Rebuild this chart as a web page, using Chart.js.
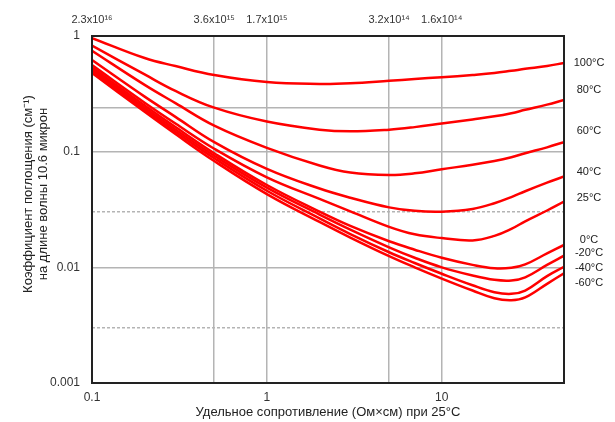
<!DOCTYPE html>
<html>
<head>
<meta charset="utf-8">
<style>
  body { margin: 0; background: #fff; }
  #wrap { width: 615px; height: 422px; }
</style>
</head>
<body>
<div id="wrap"><canvas id="grafico" width="615" height="422"></canvas></div>

<script src="https://cdn.jsdelivr.net/npm/chart.js@4"></script>
<script>
  // удельное сопротивление, Ом×см
  const resistivity = [0.1, 0.2, 0.3, 0.5, 1, 2, 3, 5, 7, 10, 15, 20, 25, 30, 40, 50];

  // коэффициент поглощения, см-1 (по кривым)
  const t100 = [0.96, 0.645, 0.55, 0.46, 0.40, 0.385, 0.39, 0.41, 0.425, 0.44, 0.46, 0.478, 0.50, 0.52, 0.55, 0.585];
  const t80  = [0.825, 0.465, 0.335, 0.24, 0.182, 0.155, 0.15, 0.155, 0.163, 0.175, 0.19, 0.202, 0.215, 0.23, 0.255, 0.28];
  const t60  = [0.746, 0.378, 0.263, 0.168, 0.108, 0.076, 0.066, 0.0628, 0.065, 0.0705, 0.077, 0.083, 0.0895, 0.097, 0.109, 0.121];
  const t40  = [0.62, 0.299, 0.20, 0.121, 0.071, 0.048, 0.04, 0.033, 0.0308, 0.0303, 0.032, 0.0358, 0.0405, 0.0455, 0.054, 0.061];
  const t25  = [0.56, 0.265, 0.175, 0.106, 0.06, 0.039, 0.0305, 0.0224, 0.0193, 0.0179, 0.0171, 0.0187, 0.0215, 0.025, 0.031, 0.037];
  const t0   = [0.535, 0.251, 0.1635, 0.097, 0.0515, 0.0303, 0.0228, 0.0168, 0.0142, 0.0121, 0.0105, 0.0098, 0.0099, 0.0106, 0.0132, 0.0156];
  const tm20 = [0.515, 0.2395, 0.1557, 0.0923, 0.0488, 0.0286, 0.0212, 0.0149, 0.0121, 0.01, 0.0085, 0.0078, 0.0077, 0.0082, 0.0105, 0.0126];
  const tm40 = [0.497, 0.23, 0.1487, 0.0877, 0.0459, 0.0265, 0.0194, 0.0135, 0.0109, 0.0088, 0.007, 0.0061, 0.0059, 0.0063, 0.0084, 0.0101];
  const tm60 = [0.48, 0.221, 0.142, 0.083, 0.043, 0.0247, 0.0181, 0.0125, 0.01, 0.008, 0.0063, 0.0054, 0.0052, 0.0055, 0.0072, 0.0089];

  const series = [t100, t80, t60, t40, t25, t0, tm20, tm40, tm60];
  const tempLabels = ['100°C', '80°C', '60°C', '40°C', '25°C', '0°C', '-20°C', '-40°C', '-60°C'];
  const tempLabelY = [0.585, 0.341, 0.151, 0.0668, 0.0398, 0.0173, 0.0133, 0.0099, 0.00733];

  const xTicks = [0.1, 0.5, 1, 5, 10];
  const xBottomLabels = ['0.1', '', '1', '', '10'];
  const xTopLabels = ['2.3x10¹⁶', '3.6x10¹⁵', '1.7x10¹⁵', '3.2x10¹⁴', '1.6x10¹⁴'];
  const yTicks = [0.001, 0.003, 0.01, 0.03, 0.1, 0.24, 1];
  const yTickLabels = ['0.001', '', '0.01', '', '0.1', '', '1'];
  const yDashed = [0.003, 0.03];

  const fonte = '"Liberation Sans", Arial, sans-serif';
  Chart.defaults.font.family = fonte;

  const extras = {
    id: 'extras',
    afterDatasetsDraw(chart) {
      const ctx = chart.ctx;
      const a = chart.chartArea;
      const y = chart.scales.y;
      ctx.save();
      ctx.strokeStyle = '#222';
      ctx.lineWidth = 2;
      ctx.strokeRect(a.left, a.top, a.right - a.left, a.bottom - a.top);

      ctx.fillStyle = '#222';
      ctx.font = '11px ' + fonte;
      ctx.textAlign = 'center';
      ctx.textBaseline = 'middle';
      tempLabels.forEach((t, i) => {
        ctx.fillText(t, a.right + 25, y.getPixelForValue(tempLabelY[i]));
      });

      ctx.font = '13px ' + fonte;
      ctx.translate(28, 194);
      ctx.rotate(-Math.PI / 2);
      ctx.fillText('Коэффициент поглощения (см⁻¹)', 0, 0);
      ctx.fillText('на длине волны 10.6 микрон', 0, 15);
      ctx.restore();
    }
  };

  new Chart(document.getElementById('grafico'), {
    type: 'line',
    data: {
      datasets: series.map((s, k) => ({
        label: tempLabels[k],
        data: resistivity.map((x, j) => ({ x: x, y: s[j] })),
        borderColor: '#ff0000',
        borderWidth: 2.5,
        pointRadius: 0,
        fill: false,
        tension: 0.4
      }))
    },
    options: {
      responsive: false,
      animation: false,
      layout: { padding: { left: 0, right: 51, top: 0, bottom: 0 } },
      plugins: { legend: { display: false }, tooltip: { enabled: false } },
      scales: {
        x: {
          type: 'logarithmic',
          position: 'bottom',
          min: 0.1,
          max: 50,
          afterBuildTicks: s => { s.ticks = xTicks.map(v => ({ value: v })); },
          afterFit: s => { s.height = 39; },
          ticks: {
            autoSkip: false,
            maxRotation: 0,
            padding: 7,
            color: '#333',
            font: { size: 12 },
            callback: (v, i) => xBottomLabels[i]
          },
          grid: { color: '#b4b4b4', lineWidth: 1.5, drawTicks: false },
          border: { display: false },
          title: {
            display: true,
            text: 'Удельное сопротивление (Ом×см) при 25°С',
            color: '#222',
            font: { size: 13 },
            padding: { top: 0, bottom: 2 }
          }
        },
        x2: {
          type: 'logarithmic',
          position: 'top',
          min: 0.1,
          max: 50,
          afterBuildTicks: s => { s.ticks = xTicks.map(v => ({ value: v })); },
          afterFit: s => { s.height = 36; },
          ticks: {
            autoSkip: false,
            maxRotation: 0,
            padding: 9,
            color: '#333',
            font: { size: 11 },
            callback: (v, i) => xTopLabels[i]
          },
          grid: { display: false, drawTicks: false },
          border: { display: false }
        },
        y: {
          type: 'logarithmic',
          min: 0.001,
          max: 1,
          afterBuildTicks: s => { s.ticks = yTicks.map(v => ({ value: v })); },
          afterFit: s => { s.width = 92; },
          ticks: {
            autoSkip: false,
            padding: 12,
            color: '#333',
            font: { size: 12 },
            callback: (v, i) => yTickLabels[i]
          },
          grid: { color: '#b4b4b4', lineWidth: 1.5, drawTicks: false },
          border: {
            display: false,
            dash: c => (c.tick && yDashed.includes(c.tick.value)) ? [3, 2] : []
          }
        }
      }
    },
    plugins: [extras]
  });
</script>
</body>
</html>
